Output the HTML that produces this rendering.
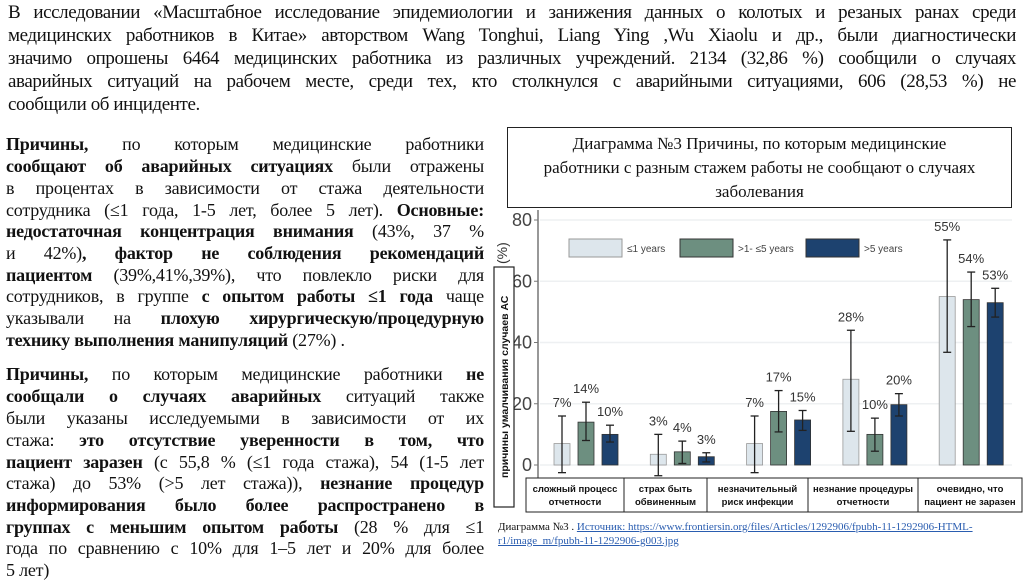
<!DOCTYPE html>
<html><head><meta charset="utf-8">
<style>
body{margin:0;width:1024px;height:574px;overflow:hidden;background:#fff;position:relative;font-family:"Liberation Serif",serif;color:#111}
.l{position:absolute;white-space:nowrap;text-align:justify;text-align-last:justify}
.top .l{left:8px;width:1008px;font-size:19px;letter-spacing:-0.4px}
.col .l{left:6px;width:478px;font-size:18px;letter-spacing:-0.2px}
b{font-weight:bold}
</style></head><body>
<div class="top">
<div class="l" style="top:2px">В исследовании «Масштабное исследование эпидемиологии и занижения данных о колотых и резаных ранах среди</div>
<div class="l" style="top:25px">медицинских работников в Китае» авторством Wang Tonghui, Liang Ying ,Wu Xiaolu и др., были диагностически</div>
<div class="l" style="top:48px">значимо опрошены 6464 медицинских работника из различных учреждений. 2134 (32,86 %) сообщили о случаях</div>
<div class="l" style="top:71px">аварийных ситуаций на рабочем месте, среди тех, кто столкнулся с аварийными ситуациями, 606 (28,53 %) не</div>
<div class="l" style="top:94px;text-align-last:left">сообщили об инциденте.</div>
</div>
<div class="col">
<div class="l" style="top:134px"><b>Причины,</b> по которым медицинские работники</div>
<div class="l" style="top:156px"><b>сообщают об аварийных ситуациях</b> были отражены</div>
<div class="l" style="top:178px">в процентах в зависимости от стажа деятельности</div>
<div class="l" style="top:200px">сотрудника (≤1 года, 1-5 лет, более 5 лет). <b>Основные:</b></div>
<div class="l" style="top:221px"><b>недостаточная концентрация внимания</b> (43%, 37 %</div>
<div class="l" style="top:243px">и 42%)<b>, фактор не соблюдения рекомендаций</b></div>
<div class="l" style="top:265px"><b>пациентом</b> (39%,41%,39%), что повлекло риски для</div>
<div class="l" style="top:286px">сотрудников, в группе <b>с опытом работы ≤1 года</b> чаще</div>
<div class="l" style="top:308px">указывали на <b>плохую хирургическую/процедурную</b></div>
<div class="l" style="top:330px;text-align-last:left"><b>технику выполнения манипуляций</b> (27%) .</div>
</div>
<div class="col">
<div class="l" style="top:364px"><b>Причины,</b> по которым медицинские работники <b>не</b></div>
<div class="l" style="top:386px"><b>сообщали о случаях аварийных</b> ситуаций также</div>
<div class="l" style="top:408px">были указаны исследуемыми в зависимости от их</div>
<div class="l" style="top:430px">стажа: <b>это отсутствие уверенности в том, что</b></div>
<div class="l" style="top:452px"><b>пациент заразен</b> (с 55,8 % (≤1 года стажа), 54 (1-5 лет</div>
<div class="l" style="top:473px">стажа) до 53% (&gt;5 лет стажа)), <b>незнание процедур</b></div>
<div class="l" style="top:495px"><b>информирования было более распространено в</b></div>
<div class="l" style="top:517px"><b>группах с меньшим опытом работы</b> (28 % для ≤1</div>
<div class="l" style="top:538px">года по сравнению с 10% для 1–5 лет и 20% для более</div>
<div class="l" style="top:560px;text-align-last:left">5 лет)</div>
</div>
<div style="position:absolute;left:507px;top:127px;width:505px;height:81px;border:1.5px solid #222;box-sizing:border-box;text-align:center;font-size:17px;line-height:24px;padding-top:4px">Диаграмма №3 Причины, по которым медицинские<br>работники с разным стажем работы не сообщают о случаях<br>заболевания</div>
<svg id="chart" width="1024" height="574" style="position:absolute;left:0;top:0" font-family="Liberation Sans, sans-serif"></svg>
<div style="position:absolute;left:498px;top:520px;font-size:11px;line-height:14px;font-family:'Liberation Serif',serif">Диаграмма №3 . <span style="color:#2a5db0;text-decoration:underline">Источник: https://www.frontiersin.org/files/Articles/1292906/fpubh-11-1292906-HTML-<br>r1/image_m/fpubh-11-1292906-g003.jpg</span></div>
<script>
const categories=["сложный процесс|отчетности","страх быть|обвиненным","незначительный|риск инфекции","незнание процедуры|отчетности","очевидно, что|пациент не заразен"];
const seriesNames=["≤1 years",">1- ≤5 years",">5 years"];
const v1=[7,3.5,7,28,55];
const v2=[14,4.3,17.5,10,54];
const v3=[10,2.7,14.7,19.7,53];
const lo1=[-2.5,-3.5,-2.5,11,36.8], hi1=[16,10,16,44,73.5];
const lo2=[8,0.5,10.8,4.5,45.2], hi2=[20.5,7.8,24.3,15.3,63];
const lo3=[7.5,1,11.3,16,48.3], hi3=[13,4,17.8,23.3,57.7];
const lab1=["7%","3%","7%","28%","55%"];
const lab2=["14%","4%","17%","10%","54%"];
const lab3=["10%","3%","15%","20%","53%"];
const yTicks=[0,20,40,60,80];
const colors=["#dde6ec","#6d8f80","#1d426f"];
const svg=document.getElementById('chart');
const NS='http://www.w3.org/2000/svg';
function y(v){return 465-v*245/80;}
function gx(i){return 586+i*96.3;}
function mk(t,a,p){const e=document.createElementNS(NS,t);for(const k in a)e.setAttribute(k,a[k]);(p||svg).appendChild(e);return e;}
yTicks.forEach(t=>{
 const g=mk('line',{x1:540,x2:1012,y1:y(t),y2:y(t),stroke:'#eef0f2','stroke-width':1.5});
 
 
 mk('line',{x1:534,x2:538,y1:y(t),y2:y(t),stroke:'#777'});
 const tx=mk('text',{x:532,y:y(t)+6,'text-anchor':'end','font-size':18,fill:'#444'});
 tx.textContent=t;
 
 
});
const ax=mk('line',{x1:538,x2:538,y1:210,y2:478,stroke:'#777','stroke-width':1.5});


const vals=[v1,v2,v3],los=[lo1,lo2,lo3],his=[hi1,hi2,hi3],labs=[lab1,lab2,lab3];
categories.forEach((c,i)=>{
 for(let s=0;s<3;s++){
  const cx=gx(i)+(s-1)*24, v=vals[s][i];
  const r=mk('rect',{x:cx-8,y:y(v),width:16,height:y(0)-y(v),fill:colors[s],stroke:s==0?'#999':'#333','stroke-width':0.8});
  
  
  const l=los[s][i],h=his[s][i];
  mk('line',{x1:cx,x2:cx,y1:y(l),y2:y(h),stroke:'#222','stroke-width':1.3});
  mk('line',{x1:cx-4,x2:cx+4,y1:y(l),y2:y(l),stroke:'#222','stroke-width':1.3});
  mk('line',{x1:cx-4,x2:cx+4,y1:y(h),y2:y(h),stroke:'#222','stroke-width':1.3});
  const t=mk('text',{x:cx,y:y(h)-9,'text-anchor':'middle','font-size':13,fill:'#333'});
  t.textContent=labs[s][i];
  
  
 }
});
const edges=[526,624,707,808,918,1022];
categories.forEach((c,i)=>{
 const b=mk('rect',{x:edges[i],y:478,width:edges[i+1]-edges[i],height:34,fill:'#fff',stroke:'#222','stroke-width':1});
 
 
 const parts=c.split('|');
 parts.forEach((p,k)=>{
  const t=mk('text',{x:(edges[i]+edges[i+1])/2,y:492+k*13,'text-anchor':'middle','font-size':9.5,'font-weight':'bold',fill:'#111'});
  t.textContent=p;
  
  
 });
});
const lx=[569,680,806];
seriesNames.forEach((n,s)=>{
 const r=mk('rect',{x:lx[s],y:239,width:53,height:18,fill:colors[s],stroke:s==0?'#999':'#333'});
 
 
 const t=mk('text',{x:lx[s]+58,y:252,'font-size':10,fill:'#444'});
 t.textContent=n;
 
 
});
const yb=mk('rect',{x:494,y:267,width:20,height:240,fill:'#fff',stroke:'#222','stroke-width':1.2});


const yt=mk('text',{x:0,y:0,'font-size':10.5,'font-weight':'bold',transform:'translate(508,478) rotate(-90)',fill:'#111'});
yt.textContent='причины умалчивания случаев АС';


const yp=mk('text',{x:0,y:0,'font-size':14,transform:'translate(507,264) rotate(-90)',fill:'#333'});
yp.textContent='(%)';


</script>
</body></html>
